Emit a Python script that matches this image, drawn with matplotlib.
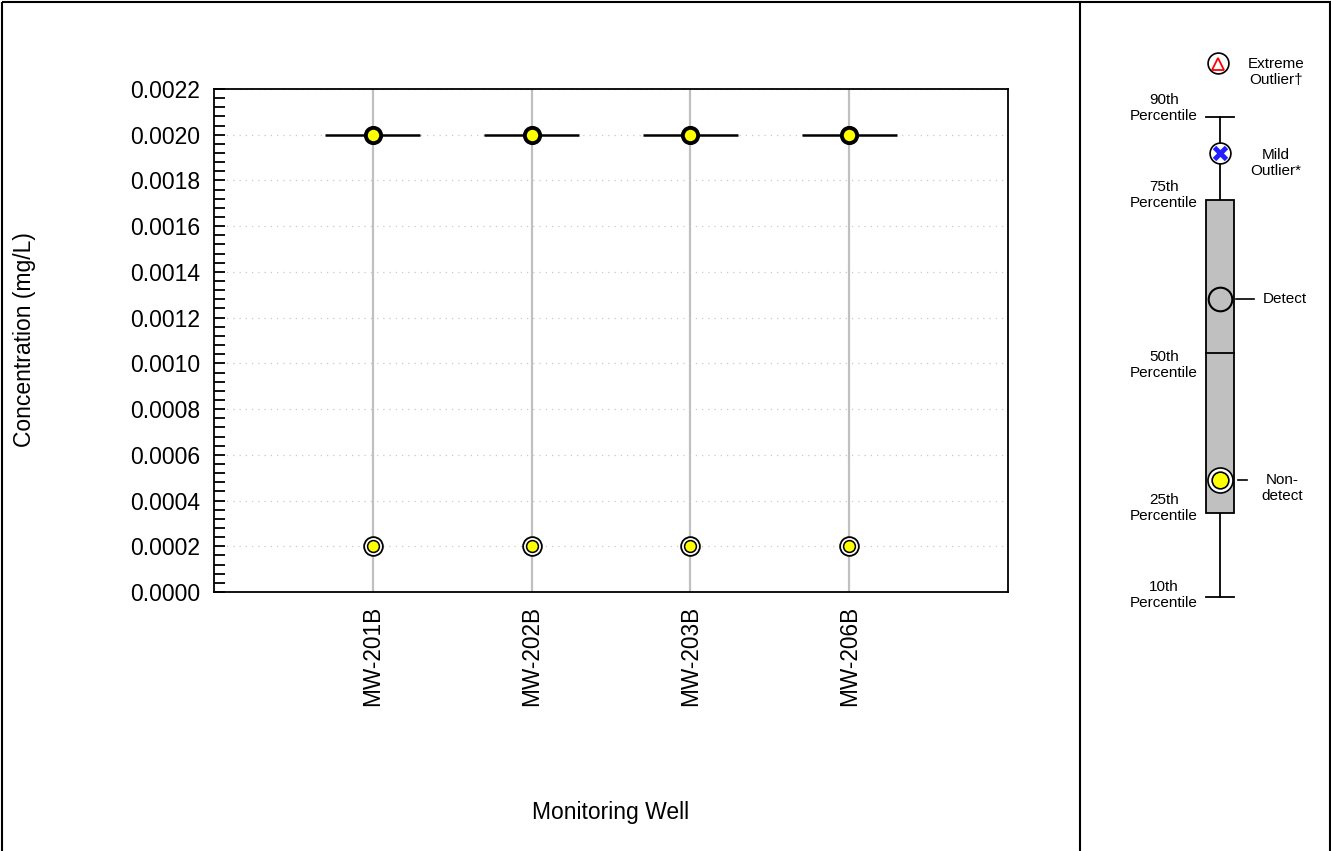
import numpy as np
import matplotlib
matplotlib.use("Agg")
import matplotlib.pyplot as plt
from matplotlib.ticker import MultipleLocator, FormatStrFormatter
from matplotlib.patches import Rectangle

plt.rcParams['font.family'] = ['Liberation Sans', 'DejaVu Sans']

# data
wells = ["MW-201B", "MW-202B", "MW-203B", "MW-206B"]
box_values = [0.0020, 0.0020, 0.0020, 0.0020]      # collapsed boxes (all percentiles equal)
detect_values = [0.0020, 0.0020, 0.0020, 0.0020]
nondetect_values = [0.0002, 0.0002, 0.0002, 0.0002]

W, H = 1331, 851
fig = plt.figure(figsize=(W / 100, H / 100), dpi=100)

ax = fig.add_axes([214 / W, 1 - 592 / H, 794 / W, 503 / H])
x = np.arange(1, len(wells) + 1)

# grid
for xi in x:
    ax.axvline(xi, color="#c0c0c0", lw=1.6, zorder=1)
for yv in np.arange(0.0002, 0.00221, 0.0002):
    ax.axhline(yv, color="#c8c8c8", lw=0.9, ls=(0, (1, 4)), zorder=1)

# collapsed box plots
ax.hlines(box_values, x - 0.3, x + 0.3, color="black", lw=1.8, zorder=3)

# detects
ax.plot(x, detect_values, "o", ms=11, mfc="#ffff00", mec="black", mew=2.8, zorder=5, ls="none")

# non-detects (double ring)
ax.plot(x, nondetect_values, "o", ms=13.5, mfc="white", mec="black", mew=1.3, zorder=5, ls="none")
ax.plot(x, nondetect_values, "o", ms=8.5, mfc="#ffff00", mec="black", mew=1.1, zorder=6, ls="none")

ax.set_xlim(0, 5)
ax.set_ylim(0, 0.0022)
ax.yaxis.set_major_locator(MultipleLocator(0.0002))
ax.yaxis.set_minor_locator(MultipleLocator(0.00004))
ax.yaxis.set_major_formatter(FormatStrFormatter("%.4f"))
ax.tick_params(axis="y", which="both", direction="in", length=8, width=1.3, labelsize=16.5, pad=10)
ax.set_xticks(x)
ax.set_xticklabels(wells, rotation=90, fontsize=16.3)
ax.tick_params(axis="x", length=0, pad=10)
for s in ax.spines.values():
    s.set_linewidth(1.3)

fig.text(611 / W, 1 - 813 / H, "Monitoring Well", ha="center", va="center", fontsize=16.5)
fig.text(25 / W, 1 - 340 / H, "Concentration (mg/L)", ha="center", va="center",
         rotation=90, fontsize=16.5)

# outer frame and divider
frame = fig.add_axes([0, 0, 1, 1], zorder=-1)
frame.set_xlim(0, W)
frame.set_ylim(H, 0)
frame.axis("off")
frame.add_patch(Rectangle((1.5, 1.5), W - 3, H + 5, fill=False, ec="black", lw=1.5))
frame.plot([1080, 1080], [1.5, H], color="black", lw=1.5)

# legend panel (schematic box plot)
lg = fig.add_axes([0, 0, 1, 1])
lg.set_xlim(0, W)
lg.set_ylim(H, 0)
lg.axis("off")
cx = 1220
lg.plot([cx, cx], [117, 597], color="black", lw=1.3, zorder=1)
lg.plot([cx - 14, cx + 14], [117, 117], color="black", lw=1.3)
lg.plot([cx - 14, cx + 14], [597, 597], color="black", lw=1.3)
lg.add_patch(Rectangle((1206, 200), 28, 313, fc="#c0c0c0", ec="black", lw=1.3, zorder=2))
lg.plot([1206, 1234], [353, 353], color="black", lw=1.3, zorder=3)

lg.plot(1218, 63, "o", ms=15, mfc="white", mec="black", mew=1.2, zorder=4)
lg.plot(1218, 64, "^", ms=8.5, mfc="white", mec="red", mew=1.3, zorder=5)
lg.plot(cx, 153, "o", ms=15, mfc="white", mec="black", mew=1.2, zorder=4)
lg.plot(cx, 153, "x", ms=8, mec="#1f1fff", mew=3.5, zorder=5)
lg.plot(cx, 299, "o", ms=17, mfc="none", mec="black", mew=1.5, zorder=4)
lg.plot(cx, 480, "o", ms=18, mfc="white", mec="black", mew=1.2, zorder=4)
lg.plot(cx, 480, "o", ms=12, mfc="#ffff00", mec="black", mew=1.2, zorder=5)

lg.plot([1236, 1254], [299, 299], color="black", lw=1.2)
lg.plot([1238, 1247], [480, 480], color="black", lw=1.2)

fs = 11
lg.text(1276, 72, "Extreme\nOutlier\u2020", ha="center", va="center", fontsize=fs, linespacing=1.1)
lg.text(1276, 163, "Mild\nOutlier*", ha="center", va="center", fontsize=fs, linespacing=1.1)
lg.text(1263, 299, "Detect", ha="left", va="center", fontsize=fs)
lg.text(1282, 488, "Non-\ndetect", ha="center", va="center", fontsize=fs, linespacing=1.1)
for yy, lab in [(108, "90th"), (195, "75th"), (365, "50th"), (508, "25th"), (595, "10th")]:
    lg.text(1164, yy, lab + "\nPercentile", ha="center", va="center", fontsize=fs, linespacing=1.1)

fig.savefig("out.png", dpi=100)
